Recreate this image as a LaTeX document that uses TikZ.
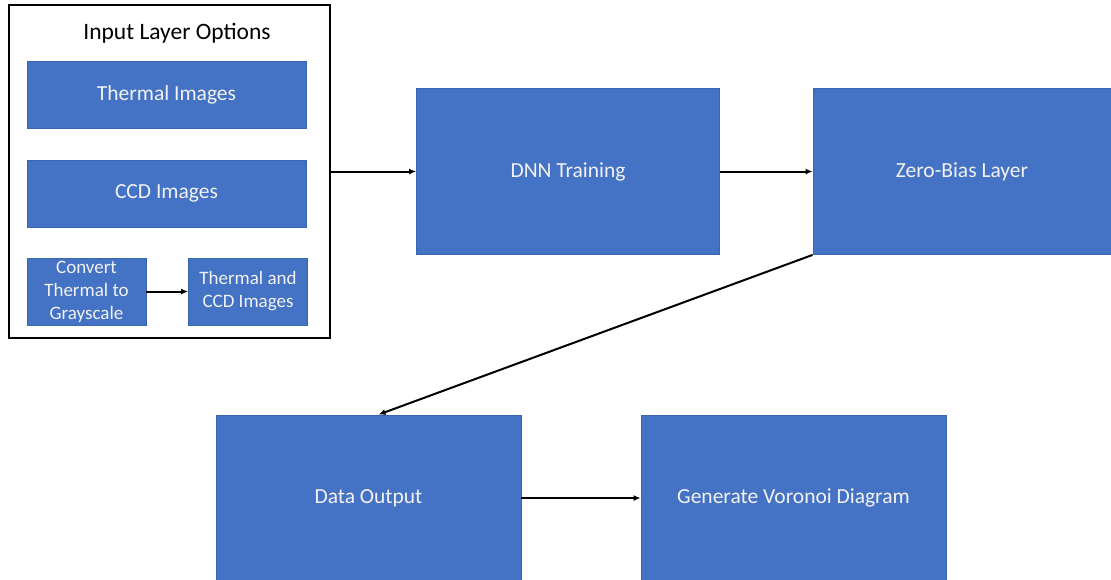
\documentclass[tikz,border=0pt]{standalone}
\usepackage{fontspec}
\setmainfont{Carlito}
\usepackage{tikz}
\usetikzlibrary{arrows.meta,positioning}
\definecolor{boxfill}{RGB}{68,114,196}
\definecolor{boxline}{RGB}{60,100,175}
\definecolor{boxtext}{RGB}{242,242,242}
\tikzstyle{blk}=[draw=boxline, line width=0.8pt, fill=boxfill, text=boxtext, align=center]
\tikzstyle{bigblk}=[blk, minimum width=303pt, minimum height=166pt, font=\fontsize{21.5}{26}\selectfont]
\tikzstyle{optblk}=[blk, minimum width=279pt, minimum height=67pt, font=\fontsize{21.5}{26}\selectfont]
\tikzstyle{smallblk}=[blk, minimum width=119pt, minimum height=67pt, inner sep=1pt, font=\fontsize{19}{23}\selectfont]
\tikzstyle{frame}=[draw, line width=2.6pt, minimum width=321pt, minimum height=333pt]
\tikzstyle{link}=[->, line width=2pt]

\begin{document}
\begin{tikzpicture}[x=1pt,y=-1pt,>={Latex[length=7pt,width=6pt]}]
		    \useasboundingbox (0,0) rectangle (1111,579);
		    \node [frame] (inlayer) at (169.5,171.5) {};
		    \node (title) at (177,33) {\fontsize{23.5}{28}\selectfont Input Layer Options};
		    \node [optblk] (thermal) at (166.5,94.5) {Thermal Images};
		    \node [optblk] (ccd) [below of=thermal,node distance=99pt] {CCD Images};
		    \node [smallblk] (conv) at (86.5,291.5) {Convert\\Thermal to\\Grayscale};
		    \node [smallblk] (both) [right of=conv,node distance=161.5pt] {Thermal and\\CCD Images};
		    \node [bigblk] (dnn) [right of=inlayer,node distance=398.5pt] {DNN Training};
		    \node [bigblk, minimum width=298pt] (zero) [right of=dnn,node distance=394pt] {Zero-Bias Layer};
		    \node [bigblk, minimum width=305pt] (data) at (368.5,498) {Data Output};
		    \node [bigblk, minimum width=305pt] (gen) [right of=data,node distance=425pt] {Generate Voronoi Diagram};
		    \path[link]
		    (conv) edge (both)
		    (inlayer) edge (dnn)
		    (dnn) edge (zero)
		    (zero.south west) edge ([xshift=10pt]data.north)
		    (data) edge (gen);
		\end{tikzpicture}
\end{document}
